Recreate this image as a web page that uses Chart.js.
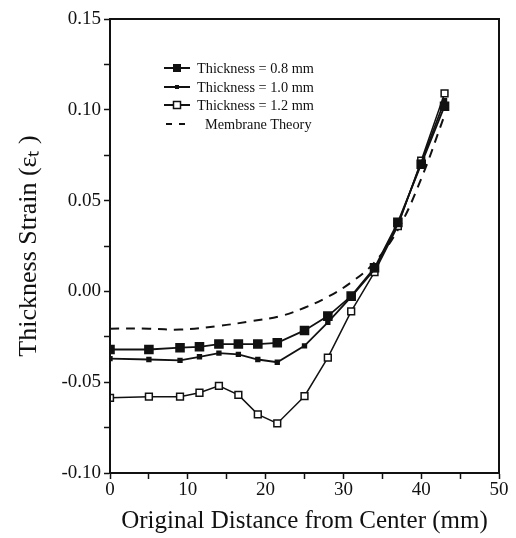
<!DOCTYPE html>
<html>
<head>
<meta charset="utf-8">
<script src="https://cdn.jsdelivr.net/npm/chart.js@4/dist/chart.umd.min.js"></script>
<style>
  html, body { margin: 0; padding: 0; background: #fff; }
  #wrap { position: relative; width: 516px; height: 538px; }
  #leyenda {
    position: absolute; left: 163px; top: 59px;
    font-family: "Liberation Serif", "Times New Roman", serif;
    font-size: 14.3px; color: #111; line-height: 18.5px;
  }
  #leyenda div { display: flex; align-items: center; white-space: nowrap; }
  #leyenda svg { margin-right: 6px; }
</style>
</head>
<body>
<div id="wrap">
  <canvas id="grafico" width="516" height="538"></canvas>
  <div id="leyenda">
    <div><svg width="28" height="12"><line x1="1" y1="6" x2="27" y2="6" stroke="#111" stroke-width="2"/><rect x="10" y="2" width="8" height="8" fill="#111"/></svg>Thickness = 0.8 mm</div>
    <div><svg width="28" height="12"><line x1="1" y1="6" x2="27" y2="6" stroke="#111" stroke-width="2"/><rect x="12" y="4" width="4" height="4" fill="#111"/></svg>Thickness = 1.0 mm</div>
    <div><svg width="28" height="12"><line x1="1" y1="6" x2="27" y2="6" stroke="#111" stroke-width="2"/><rect x="10.5" y="2.5" width="7" height="7" fill="#fff" stroke="#111" stroke-width="1.5"/></svg>Thickness = 1.2 mm</div>
    <div><svg width="36" height="12"><line x1="3" y1="6" x2="27" y2="6" stroke="#111" stroke-width="2" stroke-dasharray="6,7"/></svg>Membrane Theory</div>
  </div>
</div>
<script>
// datos
const distancias = [0, 5, 9, 11.5, 14, 16.5, 19, 21.5, 25, 28, 31, 34, 37, 40, 43];
const espesor08 = [-0.032, -0.032, -0.031, -0.0305, -0.029, -0.029, -0.029, -0.0283, -0.0215, -0.0136, -0.0026, 0.013, 0.038, 0.070, 0.102];
const espesor10 = [-0.037, -0.0375, -0.038, -0.036, -0.034, -0.0347, -0.0375, -0.039, -0.030, -0.017, -0.003, 0.012, 0.037, 0.071, 0.105];
const espesor12 = [-0.0586, -0.058, -0.058, -0.0558, -0.052, -0.057, -0.0677, -0.0727, -0.0577, -0.0365, -0.011, 0.0106, 0.036, 0.072, 0.109];

const distMembrana = [0, 5, 9, 14, 18, 22, 25, 28, 31, 34, 37, 40, 43];
const membrana = [-0.0205, -0.0205, -0.021, -0.019, -0.0165, -0.0135, -0.009, -0.003, 0.005, 0.016, 0.034, 0.062, 0.097];

const ticksX = [0, 10, 20, 30, 40, 50];
const ticksY = [-0.10, -0.05, 0.00, 0.05, 0.10, 0.15];

const fuente = "'Liberation Serif', 'Times New Roman', serif";
const negro = '#111';

const puntos = (xs, ys) => xs.map((x, i) => ({ x: x, y: ys[i] }));

// marco completo del area del grafico
const marco = {
    id: 'marco',
    afterDraw(chart) {
        const { ctx, chartArea } = chart;
        ctx.save();
        ctx.strokeStyle = negro;
        ctx.lineWidth = 2;
        ctx.strokeRect(chartArea.left, chartArea.top, chartArea.right - chartArea.left, chartArea.bottom - chartArea.top);
        ctx.restore();
    }
};

const ctx = document.getElementById('grafico').getContext('2d');

window.graficaEspesor = new Chart(ctx, {
    type: 'line',
    data: {
        datasets: [
            {
                label: 'Thickness = 0.8 mm',
                data: puntos(distancias, espesor08),
                borderColor: negro,
                backgroundColor: negro,
                borderWidth: 1.8,
                pointStyle: 'rect',
                pointRadius: 5.5,
                pointBackgroundColor: negro,
                pointBorderColor: negro,
                tension: 0
            },
            {
                label: 'Thickness = 1.0 mm',
                data: puntos(distancias, espesor10),
                borderColor: negro,
                backgroundColor: negro,
                borderWidth: 1.8,
                pointStyle: 'rect',
                pointRadius: 2.5,
                pointBackgroundColor: negro,
                pointBorderColor: negro,
                tension: 0
            },
            {
                label: 'Thickness = 1.2 mm',
                data: puntos(distancias, espesor12),
                borderColor: negro,
                backgroundColor: '#fff',
                borderWidth: 1.5,
                pointStyle: 'rect',
                pointRadius: 4.8,
                pointBackgroundColor: '#fff',
                pointBorderColor: negro,
                pointBorderWidth: 1.5,
                tension: 0
            },
            {
                label: 'Membrane Theory',
                data: puntos(distMembrana, membrana),
                borderColor: negro,
                borderWidth: 2,
                borderDash: [9, 7],
                pointRadius: 0,
                tension: 0.4
            }
        ]
    },
    options: {
        responsive: false,
        animation: false,
        layout: {
            padding: { left: 14, right: 17, top: 19, bottom: 0 }
        },
        plugins: {
            legend: { display: false },
            tooltip: { enabled: false }
        },
        scales: {
            x: {
                type: 'linear',
                min: 0,
                max: 50,
                afterFit: (escala) => { escala.height = 65; },
                border: { color: negro, width: 2 },
                grid: { drawOnChartArea: false, tickLength: 6, tickColor: negro, tickWidth: 1.5 },
                ticks: {
                    stepSize: 5,
                    color: negro,
                    padding: 0,
                    maxRotation: 0,
                    font: { family: fuente, size: 19 },
                    callback: (v) => ticksX.includes(v) ? String(v) : ''
                },
                title: {
                    display: true,
                    text: 'Original Distance from Center (mm)',
                    color: negro,
                    padding: { top: 0, bottom: 2 },
                    font: { family: fuente, size: 25 }
                }
            },
            y: {
                min: -0.10,
                max: 0.15,
                afterFit: (escala) => { escala.width = 96; },
                border: { color: negro, width: 2 },
                grid: { drawOnChartArea: false, tickLength: 6, tickColor: negro, tickWidth: 1.5 },
                ticks: {
                    stepSize: 0.025,
                    color: negro,
                    padding: 3,
                    font: { family: fuente, size: 19 },
                    callback: (v) => ticksY.some(t => Math.abs(t - v) < 1e-6) ? v.toFixed(2) : ''
                },
                title: {
                    display: true,
                    text: 'Thickness Strain (\u03B5\u209C )',
                    color: negro,
                    padding: { top: 0, bottom: 0 },
                    font: { family: fuente, size: 26 }
                }
            }
        }
    },
    plugins: [marco]
});
</script>
</body>
</html>
